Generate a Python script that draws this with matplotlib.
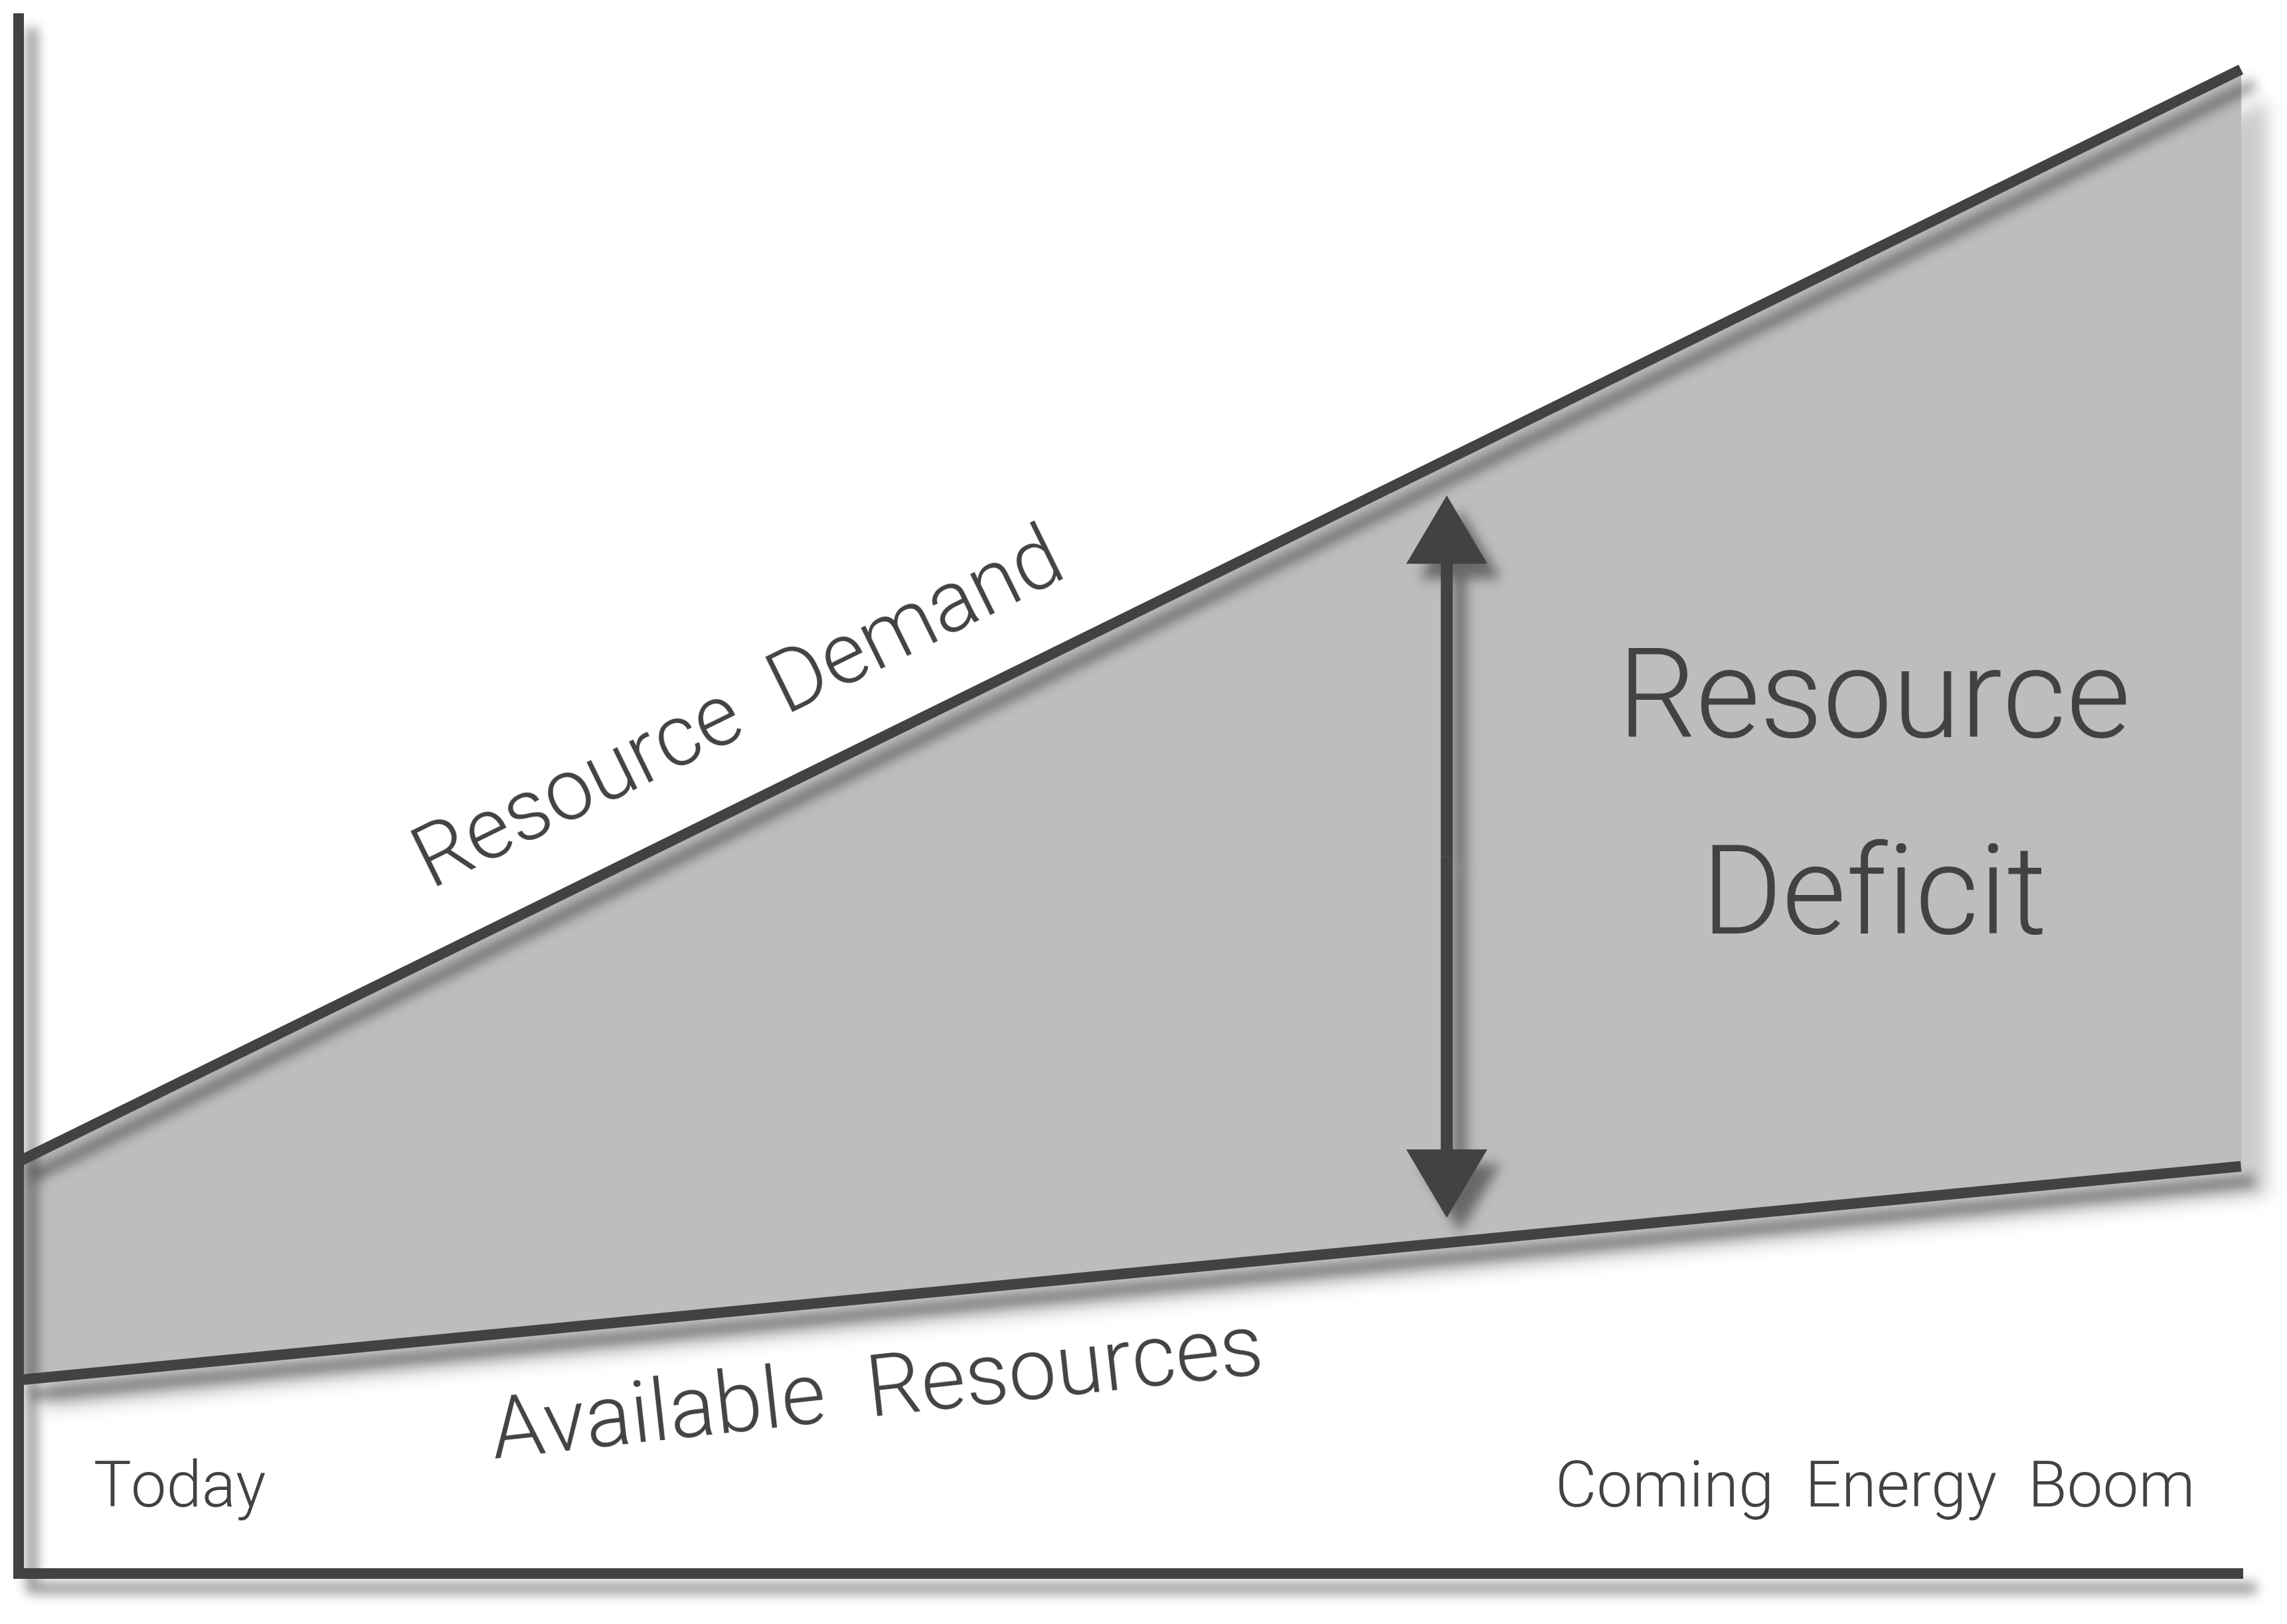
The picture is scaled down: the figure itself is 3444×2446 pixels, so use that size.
import numpy as np
import matplotlib
matplotlib.use("Agg")
import matplotlib.pyplot as plt
from matplotlib import font_manager as fm

# ---------------- data ----------------
time_x = [0.0, 99.9]                 # Today -> Coming Energy Boom
resource_demand = [26.4, 96.4]
available_resources = [12.4, 26.1]
deficit_arrow_x = 64.2
deficit_arrow_y = [22.8, 69.1]       # bottom tip, top tip

label_today = "Today"
label_boom = "Coming  Energy  Boom"
label_demand = "Resource  Demand"
label_available = "Available  Resources"
label_deficit = ["Resource", "Deficit"]

DARK = "#424242"
FILL = "#bdbdbd"

# ---------------- font ----------------
def pick_family():
    prefs = ["Roboto", "Lato", "Open Sans", "Inter", "Noto Sans"]
    for fam in prefs:
        for f in fm.fontManager.ttflist:
            if f.name == fam and f.style == "normal":
                try:
                    w = int(f.weight)
                except Exception:
                    w = 400
                if w <= 300:
                    return fam, 300
    return "Liberation Sans", "normal"

FAM, WGT = pick_family()

# ---------------- shadow filter ----------------
def conv_axis(a, k, axis):
    n = a.shape[axis]
    m = len(k)
    L = n + m - 1
    A = np.fft.rfft(a, L, axis=axis)
    K = np.fft.rfft(k, L)
    shape = [1] * a.ndim
    shape[axis] = -1
    out = np.fft.irfft(A * K.reshape(shape), L, axis=axis)
    r = m // 2
    return np.take(out, np.arange(r, r + n), axis=axis)


class DropShadow:
    def __init__(self, sigma_px=9.0, alpha=0.45, off_px=(20, 22)):
        self.sigma = sigma_px
        self.alpha = alpha
        self.off = off_px

    def __call__(self, im, dpi):
        s = dpi / 200.0
        sig = self.sigma * s
        ox = int(round(self.off[0] * s))
        oy = int(round(self.off[1] * s))
        pad = int(3 * sig + max(ox, oy)) + 2
        a = np.pad(im[:, :, 3].astype(float), pad, mode="constant")
        r = int(3 * sig)
        t = np.arange(-r, r + 1)
        k = np.exp(-0.5 * (t / sig) ** 2)
        k /= k.sum()
        a = conv_axis(a, k, 0)
        a = conv_axis(a, k, 1)
        a = np.clip(a, 0, 1) * self.alpha
        a = np.roll(a, oy, axis=0)
        a = np.roll(a, ox, axis=1)
        out = np.zeros(a.shape + (4,), dtype=float)
        out[:, :, 3] = a
        return out, -pad, -pad


shadow = DropShadow()

# ---------------- figure ----------------
W, H = 3444, 2446
fig = plt.figure(figsize=(W / 200, H / 200), dpi=200)
fig.patch.set_facecolor("white")
ax = fig.add_axes([28 / W, 76 / H, 3350 / W, 2350 / H])
ax.set_xlim(0, 100)
ax.set_ylim(0, 100)
ax.axis("off")

LW = 16 * 72 / 200  # 16 px

# filled deficit region + its shadow
sh = ax.fill_between(time_x, available_resources, resource_demand,
                     color="black", lw=0, zorder=1)
sh.set_agg_filter(shadow)
sh.set_rasterized(True)
ax.fill_between(time_x, available_resources, resource_demand,
                color=FILL, lw=0, zorder=2)


def with_shadow(draw):
    s = draw(color="black", zorder=3)
    for a in (s if isinstance(s, (list, tuple)) else [s]):
        a.set_agg_filter(shadow)
        a.set_rasterized(True)
    draw(color=DARK, zorder=4)


# lines
for series in (resource_demand, available_resources):
    with_shadow(lambda color, zorder, s=series: ax.plot(
        time_x, s, color=color, lw=LW, solid_capstyle="butt",
        zorder=zorder, clip_on=False))

# axes lines (left + bottom)
with_shadow(lambda color, zorder: ax.plot(
    [0, 0, 1], [1, 0, 0], transform=ax.transAxes, color=color, lw=LW,
    solid_capstyle="butt", solid_joinstyle="miter", zorder=zorder,
    clip_on=False))

# double headed arrow
ymid = 0.5 * (deficit_arrow_y[0] + deficit_arrow_y[1])
px_x = 3350 / 100.0
px_y = 2350 / 100.0
for tip in deficit_arrow_y:
    with_shadow(lambda color, zorder, tip=tip: ax.arrow(
        deficit_arrow_x, ymid, 0, tip - ymid, width=18 / px_x,
        head_width=122 / px_x, head_length=103 / px_y,
        length_includes_head=True, color=color, lw=0, zorder=zorder))

# ---------------- text ----------------
tk = dict(color=DARK, family=FAM, weight=WGT, zorder=5)
ax.text(3.35, 4.3, label_today, fontsize=34.4, ha="left", va="baseline", **tk)
ax.text(97.85, 4.3, label_boom, fontsize=34.6, ha="right", va="baseline", **tk)
ax.text(32.9, 53.9, label_demand, fontsize=46.3, rotation=26.2,
        rotation_mode="anchor", ha="center", va="baseline", **tk)
ax.text(38.7, 10.1, label_available, fontsize=46.5, rotation=6.3,
        rotation_mode="anchor", ha="center", va="baseline", **tk)
ax.text(83.4, 53.6, label_deficit[0], fontsize=67.3, ha="center",
        va="baseline", **tk)
ax.text(83.4, 41.0, label_deficit[1], fontsize=67.3, ha="center",
        va="baseline", **tk)

fig.savefig("out.png", dpi=200, facecolor="white")
